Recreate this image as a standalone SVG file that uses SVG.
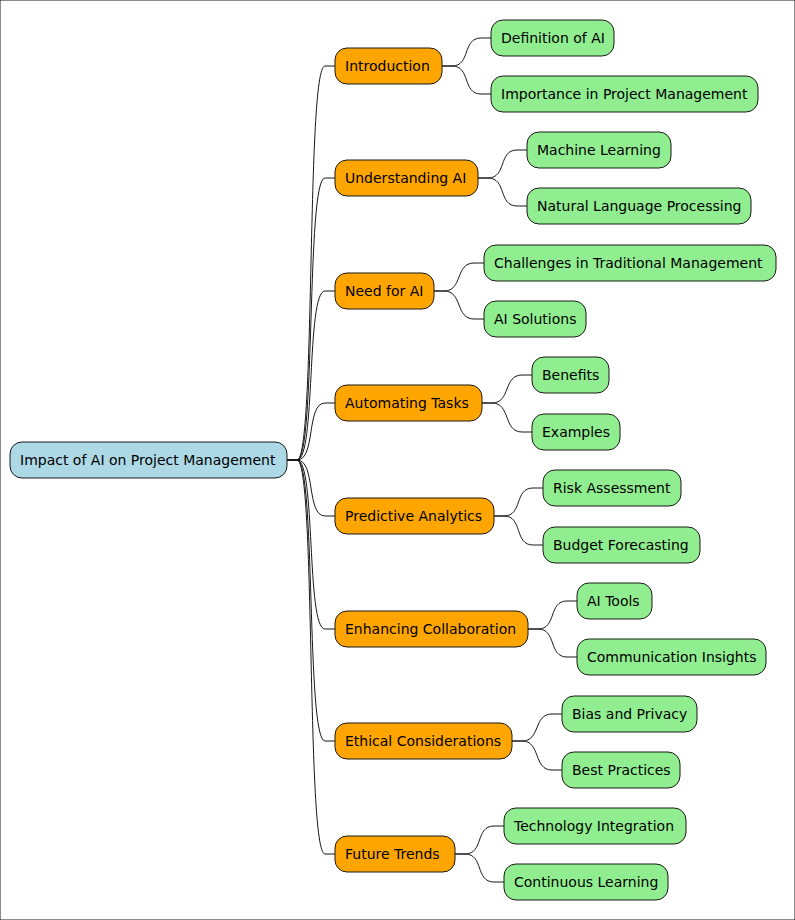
<svg xmlns="http://www.w3.org/2000/svg" width="795" height="920" viewBox="0 0 795 920">
<style>
rect{stroke:#181818;stroke-width:1}
.r{fill:#ADD8E6}.a{fill:#FFA500}.g{fill:#90EE90}
text{font-family:"DejaVu Sans",sans-serif;font-size:14px;fill:#000}
path{fill:none;stroke:#181818;stroke-width:1}
</style>
<rect width="795" height="920" fill="#fff" stroke="none"/>
<g id="connectors">
<path d="M287,460 L297,460 C316,460 306,66 325,66 L335,66"/>
<path d="M287,460 L297,460 C316,460 306,178 325,178 L335,178"/>
<path d="M287,460 L297,460 C316,460 306,291 325,291 L335,291"/>
<path d="M287,460 L297,460 C316,460 306,403 325,403 L335,403"/>
<path d="M287,460 L297,460 C316,460 306,516 325,516 L335,516"/>
<path d="M287,460 L297,460 C316,460 306,629 325,629 L335,629"/>
<path d="M287,460 L297,460 C316,460 306,741 325,741 L335,741"/>
<path d="M287,460 L297,460 C316,460 306,854 325,854 L335,854"/>
<path d="M442,66 L452,66 C471,66 462,38 481,38 L491,38"/>
<path d="M442,66 L452,66 C471,66 462,94 481,94 L491,94"/>
<path d="M478,178 L488,178 C507,178 498,150 517,150 L527,150"/>
<path d="M478,178 L488,178 C507,178 498,206 517,206 L527,206"/>
<path d="M434,291 L444,291 C463,291 455,263 474,263 L484,263"/>
<path d="M434,291 L444,291 C463,291 455,319 474,319 L484,319"/>
<path d="M482,403 L492,403 C511,403 503,375 522,375 L532,375"/>
<path d="M482,403 L492,403 C511,403 503,432 522,432 L532,432"/>
<path d="M494,516 L504,516 C523,516 514,488 533,488 L543,488"/>
<path d="M494,516 L504,516 C523,516 514,545 533,545 L543,545"/>
<path d="M528,629 L538,629 C557,629 548,601 567,601 L577,601"/>
<path d="M528,629 L538,629 C557,629 548,657 567,657 L577,657"/>
<path d="M512,741 L522,741 C541,741 533,714 552,714 L562,714"/>
<path d="M512,741 L522,741 C541,741 533,770 552,770 L562,770"/>
<path d="M455,854 L465,854 C484,854 475,826 494,826 L504,826"/>
<path d="M455,854 L465,854 C484,854 475,882 494,882 L504,882"/>
</g>
<g id="root"><rect class="r" x="10" y="442" width="277" height="36" rx="12"/><text x="20" y="465">Impact of AI on Project Management</text></g>
<g id="n1"><rect class="a" x="335" y="48" width="107" height="36" rx="12"/><text x="345" y="71">Introduction</text></g>
<g id="n2"><rect class="a" x="335" y="160" width="143" height="36" rx="12"/><text x="345" y="183">Understanding AI</text></g>
<g id="n3"><rect class="a" x="335" y="273" width="99" height="36" rx="12"/><text x="345" y="296">Need for AI</text></g>
<g id="n4"><rect class="a" x="335" y="385" width="147" height="36" rx="12"/><text x="345" y="408">Automating Tasks</text></g>
<g id="n5"><rect class="a" x="335" y="498" width="159" height="36" rx="12"/><text x="345" y="521">Predictive Analytics</text></g>
<g id="n6"><rect class="a" x="335" y="611" width="193" height="36" rx="12"/><text x="345" y="634">Enhancing Collaboration</text></g>
<g id="n7"><rect class="a" x="335" y="723" width="177" height="36" rx="12"/><text x="345" y="746">Ethical Considerations</text></g>
<g id="n8"><rect class="a" x="335" y="836" width="120" height="36" rx="12"/><text x="345" y="859">Future Trends</text></g>
<g id="l1"><rect class="g" x="491" y="20" width="123" height="36" rx="12"/><text x="501" y="43">Definition of AI</text></g>
<g id="l2"><rect class="g" x="491" y="76" width="267" height="36" rx="12"/><text x="501" y="99">Importance in Project Management</text></g>
<g id="l3"><rect class="g" x="527" y="132" width="144" height="36" rx="12"/><text x="537" y="155">Machine Learning</text></g>
<g id="l4"><rect class="g" x="527" y="188" width="224" height="36" rx="12"/><text x="537" y="211">Natural Language Processing</text></g>
<g id="l5"><rect class="g" x="484" y="245" width="292" height="36" rx="12"/><text x="494" y="268">Challenges in Traditional Management</text></g>
<g id="l6"><rect class="g" x="484" y="301" width="102" height="36" rx="12"/><text x="494" y="324">AI Solutions</text></g>
<g id="l7"><rect class="g" x="532" y="357" width="77" height="36" rx="12"/><text x="542" y="380">Benefits</text></g>
<g id="l8"><rect class="g" x="532" y="414" width="88" height="36" rx="12"/><text x="542" y="437">Examples</text></g>
<g id="l9"><rect class="g" x="543" y="470" width="138" height="36" rx="12"/><text x="553" y="493">Risk Assessment</text></g>
<g id="l10"><rect class="g" x="543" y="527" width="157" height="36" rx="12"/><text x="553" y="550">Budget Forecasting</text></g>
<g id="l11"><rect class="g" x="577" y="583" width="75" height="36" rx="12"/><text x="587" y="606">AI Tools</text></g>
<g id="l12"><rect class="g" x="577" y="639" width="189" height="36" rx="12"/><text x="587" y="662">Communication Insights</text></g>
<g id="l13"><rect class="g" x="562" y="696" width="135" height="36" rx="12"/><text x="572" y="719">Bias and Privacy</text></g>
<g id="l14"><rect class="g" x="562" y="752" width="118" height="36" rx="12"/><text x="572" y="775">Best Practices</text></g>
<g id="l15"><rect class="g" x="504" y="808" width="182" height="36" rx="12"/><text x="514" y="831">Technology Integration</text></g>
<g id="l16"><rect class="g" x="504" y="864" width="164" height="36" rx="12"/><text x="514" y="887">Continuous Learning</text></g>
</svg>
